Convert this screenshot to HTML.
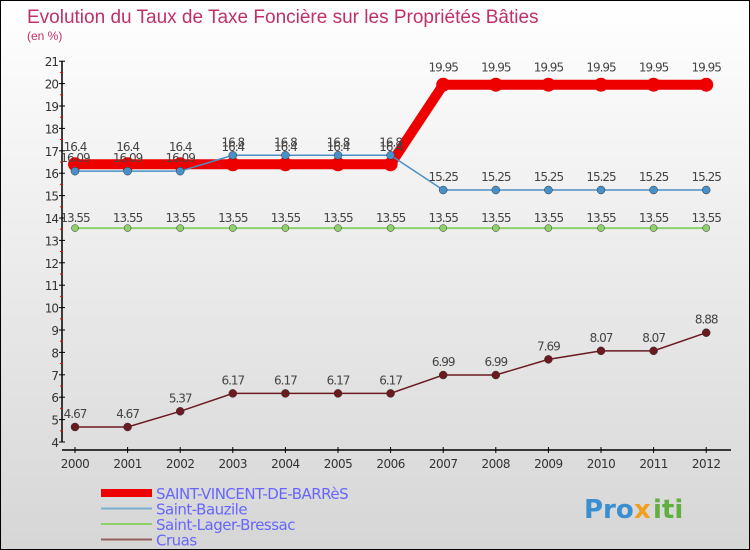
<!DOCTYPE html>
<html><head><meta charset="utf-8"><style>
body{margin:0}
#c{width:748px;height:548px;border:1px solid #000;background:linear-gradient(#fff,#d6d6d6);position:relative;font-family:"DejaVu Sans","Liberation Sans",sans-serif;overflow:hidden}
</style></head><body>
<div id="c">
<svg id="s" width="748" height="548"></svg>
</div>
<script>
const years=[2000,2001,2002,2003,2004,2005,2006,2007,2008,2009,2010,2011,2012];
const svv=[16.4,16.4,16.4,16.4,16.4,16.4,16.4,19.95,19.95,19.95,19.95,19.95,19.95];
const bau=[16.09,16.09,16.09,16.8,16.8,16.8,16.8,15.25,15.25,15.25,15.25,15.25,15.25];
const lag=[13.55,13.55,13.55,13.55,13.55,13.55,13.55,13.55,13.55,13.55,13.55,13.55,13.55];
const cru=[4.67,4.67,5.37,6.17,6.17,6.17,6.17,6.99,6.99,7.69,8.07,8.07,8.88];
const yTicks=[4,5,6,7,8,9,10,11,12,13,14,15,16,17,18,19,20,21];
const NS="http://www.w3.org/2000/svg";
const s=document.getElementById('s');
const X=i=>74+i*52.6, Y=v=>441-(v-4)*22.4;
function el(t,a,p){const e=document.createElementNS(NS,t);for(const k in a)e.setAttribute(k,a[k]);(p||s).appendChild(e);return e;}
function tx(x,y,str,a){const e=el('text',Object.assign({x:x,y:y},a));e.textContent=str;return e;}
let t=tx(26,22,'Evolution du Taux de Taxe Foncière sur les Propriétés Bâties',{fill:'#c0306a','font-size':19,'font-family':'Liberation Sans'});

t=tx(26,39,'(en %)',{fill:'#c0306a','font-size':12,'font-family':'Liberation Sans'});

let a=el('line',{x1:61,y1:Y(21),x2:61,y2:Y(4),stroke:'#000','stroke-width':1.5});

a=el('line',{x1:61,y1:449,x2:730,y2:449,stroke:'#000','stroke-width':1.5});

yTicks.forEach(v=>{
 el('line',{x1:58,x2:64,y1:Y(v),y2:Y(v),stroke:'#000'});
 if(v<21) el('line',{x1:59,x2:62,y1:Y(v+0.5),y2:Y(v+0.5),stroke:'#e00'});
 const l=tx(57,Y(v)+5,String(v),{'text-anchor':'end','font-size':12,fill:'#333','letter-spacing':'-1'});
 
});
years.forEach((y,i)=>{
 el('line',{x1:X(i),x2:X(i),y1:446,y2:452,stroke:'#000'});
 const l=tx(X(i),467,String(y),{'text-anchor':'middle','font-size':12,fill:'#333','letter-spacing':'-0.5'});
 
});
function series(vals,color,w,r,lblDy,name){
 const g=el('g',{});
 el('polyline',{points:vals.map((v,i)=>X(i)+','+Y(v)).join(' '),fill:'none',stroke:color,'stroke-width':w},g);
 vals.forEach((v,i)=>{
  const c=el('circle',{cx:X(i),cy:Y(v),r:r,fill:color,stroke:w>3?'none':'#333','stroke-width':0.5},g);
  
  tx(X(i),Y(v)+lblDy,String(v),{'text-anchor':'middle','font-size':12,fill:'#444','letter-spacing':'-1'},g);
 });
}
series(lag,'#8fd16a',2,3.5,-6,'saint-lager-bressac-series');
series(cru,'#6b1a20',1.5,4,-9,'cruas-series');
series(svv,'#ee0000',10,7,-13,'saint-vincent-series');
series(bau,'#4a90c8',1.5,4,-9,'saint-bauzile-series');
const leg=[['SAINT-VINCENT-DE-BARRèS','#ee0000',8],['Saint-Bauzile','#7ab0d0',2],['Saint-Lager-Bressac','#8fd16a',2],['Cruas','#9a6060',2]];
leg.forEach((d,i)=>{
 const g=el('g',{});
 const y=492+i*15.5;
 el('line',{x1:100,x2:151,y1:y,y2:y,stroke:d[1],'stroke-width':d[2]},g);
 tx(155,y+6,d[0],{'font-size':15,fill:'#6666ff','letter-spacing':'-0.5'},g);
});
t=tx(583,517,'Pro',{'font-size':26,'font-weight':'bold',fill:'#3a8fd0'});

tx(633,517,'x',{'font-size':26,'font-weight':'bold',fill:'#f0a020'});
tx(652,517,'iti',{'font-size':26,'font-weight':'bold',fill:'#60b040'});
</script>
</body></html>
